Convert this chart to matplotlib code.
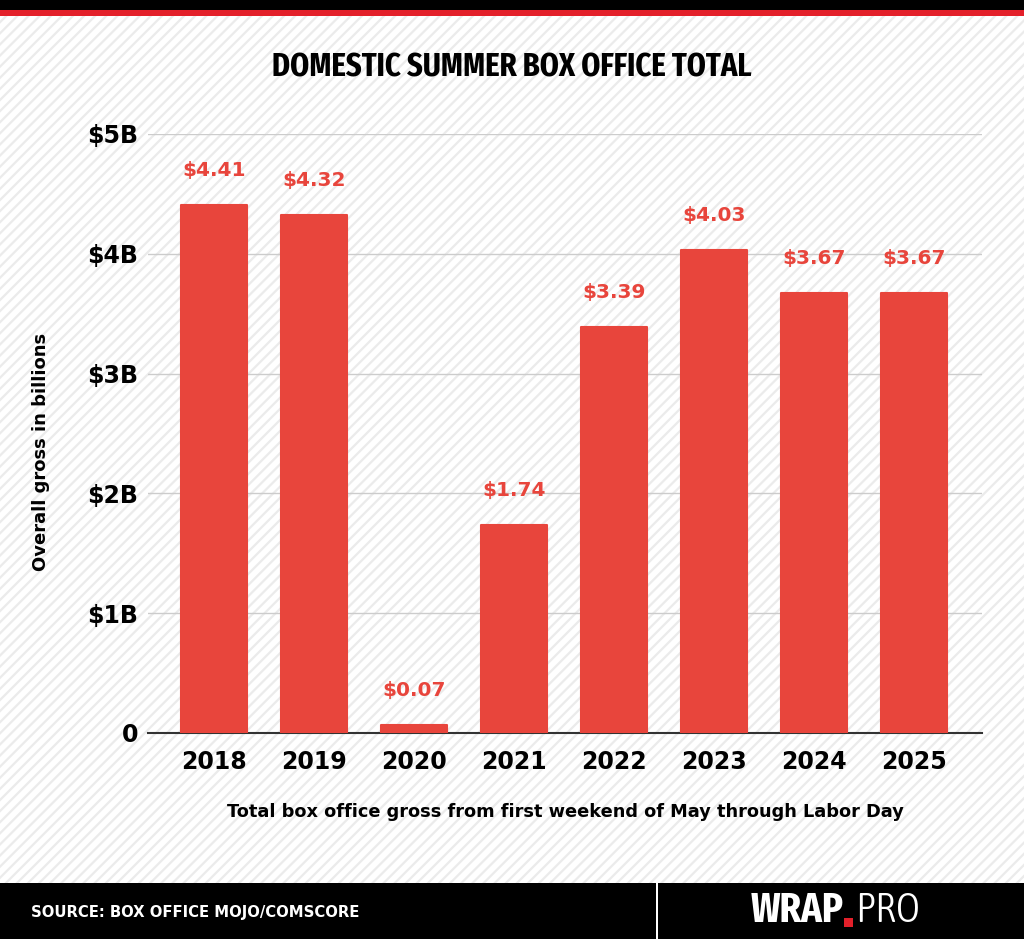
import matplotlib
matplotlib.use('Agg')
import matplotlib.pyplot as plt
from matplotlib import font_manager
from matplotlib.font_manager import FontProperties
from matplotlib.patches import Rectangle

years = ['2018', '2019', '2020', '2021', '2022', '2023', '2024', '2025']
gross = [4.41, 4.32, 0.07, 1.74, 3.39, 4.03, 3.67, 3.67]
value_labels = ['$4.41', '$4.32', '$0.07', '$1.74', '$3.39', '$4.03', '$3.67', '$3.67']
ytick_vals = [0, 1, 2, 3, 4, 5]
ytick_labels = ['0', '$1B', '$2B', '$3B', '$4B', '$5B']


def weight_num(w):
    if isinstance(w, int):
        return w
    return font_manager.weight_dict.get(w, 400)


def find_font(target_w, want_extra):
    # pick a condensed face with weight near target_w
    best, best_score = None, None
    for f in font_manager.fontManager.ttflist:
        fn = f.fname.lower()
        st = str(f.stretch)
        is_cond = ('condensed' in st or 'condensed' in fn or 'narrow' in fn
                   or 'Condensed' in f.name or 'Narrow' in f.name)
        if not is_cond or 'italic' in fn or f.style != 'normal':
            continue
        extra = ('extra' in st or 'ultra' in st or 'extracondensed' in fn
                 or 'ultracondensed' in fn)
        semi = 'semi' in st or 'semicondensed' in fn
        score = abs(weight_num(f.weight) - target_w) + (0 if extra == want_extra else 300) \
            + (60 if semi else 0)
        if best is None or score < best_score:
            best, best_score = f, score
    return best


def props(f, fallback_weight):
    if f:
        return FontProperties(fname=f.fname)
    return FontProperties(family='DejaVu Sans', weight=fallback_weight)


head_font = props(find_font(700, True), 'bold')
src_font = props(find_font(700, False), 'bold')
thin_font = props(find_font(300, False), 'light')
bold_font = 'DejaVu Sans'

red = '#e8453c'
W, H = 1024, 939

fig = plt.figure(figsize=(W / 100, H / 100), dpi=100)
plt.rcParams['hatch.linewidth'] = 1.6
plt.rcParams['hatch.color'] = '#ebebeb'

bg = Rectangle((0, 0), 1, 1, transform=fig.transFigure, facecolor='white',
               edgecolor='#ebebeb', hatch='///', linewidth=0, zorder=-10)
fig.patches.append(bg)

fig.patches.append(Rectangle((0, 1 - 10 / H), 1, 10 / H, transform=fig.transFigure,
                             facecolor='black', edgecolor='none', zorder=-5))
fig.patches.append(Rectangle((0, 1 - 16 / H), 1, 6 / H, transform=fig.transFigure,
                             facecolor='#e3202a', edgecolor='none', zorder=-5))

fig.patches.append(Rectangle((0, 0), 1, 56 / H, transform=fig.transFigure,
                             facecolor='black', edgecolor='none', zorder=-5))
fig.patches.append(Rectangle((656 / W, 0), 2 / W, 56 / H, transform=fig.transFigure,
                             facecolor='white', edgecolor='none', zorder=-4))

ax = fig.add_axes([148 / W, 1 - 733 / H, 834 / W, (733 - 134) / H])
ax.set_facecolor('none')

x = range(len(years))
ax.bar(x, gross, width=0.66, color=red, edgecolor=red, linewidth=1.5,
       joinstyle='round', zorder=3)

for i, v in enumerate(gross):
    ax.annotate(value_labels[i], (i, v), xytext=(0, 18), textcoords='offset points',
                ha='center', va='bottom', color=red, fontsize=14.5,
                fontweight='bold', family=bold_font)

ax.set_xlim(-0.66, 7.68)
ax.set_ylim(0, 5)
ax.set_yticks(ytick_vals)
ax.set_yticklabels(ytick_labels)
ax.set_xticks(list(x))
ax.set_xticklabels(years)
ax.grid(axis='y', color='#cccccc', linewidth=1, zorder=0)
for s in ['top', 'right', 'left']:
    ax.spines[s].set_visible(False)
ax.spines['bottom'].set_color('#333333')
ax.spines['bottom'].set_linewidth(1.5)
ax.tick_params(axis='y', length=0, pad=7, labelsize=17)
ax.tick_params(axis='x', length=0, pad=12, labelsize=17)
for lab in ax.get_xticklabels() + ax.get_yticklabels():
    lab.set_fontweight('bold')
    lab.set_family(bold_font)

ax.set_ylabel('Overall gross in billions', fontsize=13, fontweight='bold', family=bold_font)
ax.yaxis.set_label_coords(-98 / 834, 0.47)

fig.text(565 / W, 1 - 812 / H,
         'Total box office gross from first weekend of May through Labor Day',
         ha='center', va='center', fontsize=12.8, fontweight='bold', family=bold_font)

renderer = fig.canvas.get_renderer()


def fit_text(t, target_w):
    # scale the font so the text spans the same width as in the reference
    w = t.get_window_extent(renderer).width
    t.set_fontsize(t.get_fontsize() * target_w / w)


title = fig.text(512 / W, 1 - 68 / H, 'DOMESTIC SUMMER BOX OFFICE TOTAL', ha='center',
                 va='center', fontproperties=head_font.copy(), fontsize=30)
fit_text(title, 480)

src = fig.text(31 / W, 1 - 912 / H, 'SOURCE: BOX OFFICE MOJO/COMSCORE', ha='left',
               va='center', fontproperties=src_font.copy(), fontsize=12.5, color='white')
fit_text(src, 327)

wrap = fig.text(843 / W, 1 - 911 / H, 'WRAP', ha='right', va='center',
                fontproperties=head_font.copy(), fontsize=33, color='white')
fit_text(wrap, 93)
fig.patches.append(Rectangle((844 / W, 1 - 927 / H), 9 / W, 9 / H, transform=fig.transFigure,
                             facecolor='#e3202a', edgecolor='none'))
pro = fig.text(855 / W, 1 - 911 / H, 'PRO', ha='left', va='center',
               fontproperties=thin_font.copy(), color='white')
pro.set_fontsize(wrap.get_fontsize())

fig.savefig('out.png', dpi=100)
